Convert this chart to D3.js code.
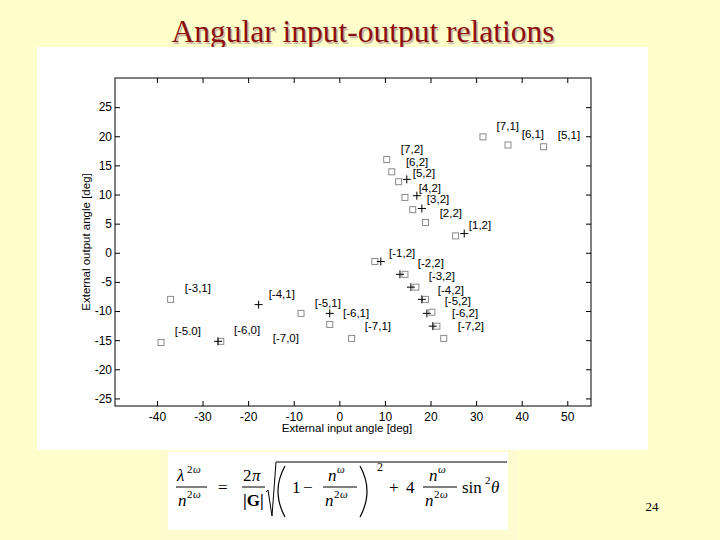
<!DOCTYPE html>
<html>
<head>
<meta charset="utf-8">
<script src="https://cdn.jsdelivr.net/npm/d3@7/dist/d3.min.js"></script>
<style>
  html, body { margin: 0; padding: 0; background: #ffffcc; }
  svg { display: block; }
</style>
</head>
<body>
<script>
// ---- data ----
const xTicks = [-40, -30, -20, -10, 0, 10, 20, 30, 40, 50];
const yTicks = [-25, -20, -15, -10, -5, 0, 5, 10, 15, 20, 25];

// calculated (theory) points: grey squares
const theoryX = [31.5, 37.0, 44.8, 10.4, 11.5, 13.0, 14.4, 16.1, 18.9, 25.5, 7.8, 14.4, 16.8, 18.9, 20.3, 21.4, 22.9, -37.0, -8.4, -2.1, 2.7, -39.1, -26.0];
const theoryY = [19.9, 18.5, 18.2, 16.0, 13.9, 12.2, 9.5, 7.4, 5.2, 2.9, -1.5, -3.7, -5.9, -8.0, -10.2, -12.6, -14.7, -8.0, -10.4, -12.3, -14.7, -15.4, -15.2];

// measured points: black plus markers
const measX = [14.8, 17.0, 18.1, 27.4, 9.1, 13.3, 15.7, 18.1, 19.2, 20.5, -17.7, -2.1, -26.6];
const measY = [12.6, 9.8, 7.6, 3.3, -1.5, -3.7, -5.9, -8.0, -10.4, -12.6, -8.9, -10.4, -15.2];

// order labels and their anchor (left edge, middle) in data units
const labelText = ["[7,1]", "[6,1]", "[5,1]", "[7,2]", "[6,2]", "[5,2]", "[4,2]", "[3,2]", "[2,2]", "[1,2]",
                   "[-1,2]", "[-2,2]", "[-3,2]", "[-4,2]", "[-5,2]", "[-6,2]", "[-7,2]",
                   "[-3,1]", "[-4,1]", "[-5,1]", "[-6,1]", "[-7,1]", "[-5.0]", "[-6,0]", "[-7,0]"];
const labelX = [34.5, 40.0, 47.9, 13.5, 14.6, 16.1, 17.4, 19.2, 22.0, 28.4,
                10.9, 17.2, 19.6, 21.6, 23.1, 24.7, 26.0,
                -33.9, -15.5, -5.4, 0.8, 5.6, -36.1, -23.1, -14.6];
const labelY = [21.8, 20.4, 20.3, 17.9, 15.6, 13.7, 11.2, 9.3, 6.9, 4.7,
                0.0, -1.8, -3.9, -6.3, -8.3, -10.4, -12.6,
                -6.1, -7.0, -8.7, -10.4, -12.6, -13.5, -13.3, -14.7];

const titleText = "Angular input-output relations";
const xLabel = "External input angle [deg]";
const yLabel = "External output angle [deg]";
const pageNumber = "24";

// ---- drawing ----
(function () {
const W = 720, H = 540;
const svg = d3.select("body").append("svg").attr("width", W).attr("height", H);

svg.append("rect").attr("width", W).attr("height", H).attr("fill", "#ffffcc");

// title with soft shadow
const title = svg.append("g");
title.append("text").attr("x", 364.5).attr("y", 43.5)
  .attr("text-anchor", "middle").attr("font-family", "'Liberation Serif','Times New Roman',serif")
  .attr("font-size", 31.5).attr("fill", "#c9b9a0").text(titleText);
title.append("text").attr("x", 363).attr("y", 42)
  .attr("text-anchor", "middle").attr("font-family", "'Liberation Serif','Times New Roman',serif")
  .attr("font-size", 31.5).attr("fill", "#8b0f0f").text(titleText);

// white figure panel
svg.append("rect").attr("x", 37).attr("y", 47).attr("width", 611).attr("height", 403).attr("fill", "#ffffff");

const pL = 115, pR = 591, pT = 78, pB = 406;
const x = d3.scaleLinear().domain([-49.2, 55.2]).range([pL, pR]);
const y = d3.scaleLinear().domain([-26.3, 30]).range([pB, pT]);

const font = "'Liberation Sans', Arial, Helvetica, sans-serif";
const fmt = d => String(d);

// axes
const axB = svg.append("g").attr("transform", `translate(0,${pB})`)
  .call(d3.axisBottom(x).tickValues(xTicks).tickSize(-5).tickPadding(6).tickFormat(fmt));
const axT = svg.append("g").attr("transform", `translate(0,${pT})`)
  .call(d3.axisTop(x).tickValues(xTicks).tickSize(-5).tickFormat(""));
const axL = svg.append("g").attr("transform", `translate(${pL},0)`)
  .call(d3.axisLeft(y).tickValues(yTicks).tickSize(-5).tickPadding(3).tickFormat(fmt));
const axR = svg.append("g").attr("transform", `translate(${pR},0)`)
  .call(d3.axisRight(y).tickValues(yTicks).tickSize(-5).tickFormat(""));
[axB, axT, axL, axR].forEach(g => {
  g.select(".domain").remove();
  g.selectAll(".tick line").attr("stroke", "#000").attr("stroke-width", 1);
  g.selectAll("text").attr("font-family", font).attr("font-size", 12).attr("fill", "#000");
});
svg.append("rect").attr("x", pL).attr("y", pT).attr("width", pR - pL).attr("height", pB - pT)
  .attr("fill", "none").attr("stroke", "#000").attr("stroke-width", 1);

// axis titles
svg.append("text").attr("x", (pL + pR) / 2 - 6).attr("y", 432)
  .attr("text-anchor", "middle").attr("font-family", font).attr("font-size", 11.5).text(xLabel);
svg.append("text").attr("transform", `translate(90,${(pT + pB) / 2})rotate(-90)`)
  .attr("text-anchor", "middle").attr("font-family", font).attr("font-size", 11.5).text(yLabel);

// theory squares
const theory = theoryX.map((v, i) => ({ x: v, y: theoryY[i] }));
svg.append("g").selectAll("rect").data(theory).join("rect")
  .attr("x", d => x(d.x) - 3).attr("y", d => y(d.y) - 3)
  .attr("width", 6).attr("height", 6)
  .attr("fill", "none").attr("stroke", "#8a8a8a").attr("stroke-width", 1);

// measured plus markers
const meas = measX.map((v, i) => ({ x: v, y: measY[i] }));
svg.append("g").selectAll("path").data(meas).join("path")
  .attr("d", d => { const cx = x(d.x), cy = y(d.y); return `M${cx - 4},${cy}H${cx + 4}M${cx},${cy - 4}V${cy + 4}`; })
  .attr("stroke", "#000").attr("stroke-width", 1).attr("fill", "none");

// order labels
const labels = labelText.map((t, i) => ({ t, x: labelX[i], y: labelY[i] }));
svg.append("g").selectAll("text").data(labels).join("text")
  .attr("x", d => x(d.x)).attr("y", d => y(d.y)).attr("dy", "0.35em")
  .attr("font-family", font).attr("font-size", 11.5).attr("fill", "#000")
  .text(d => d.t);

// formula box
svg.append("rect").attr("x", 160).attr("y", 450).attr("width", 358).attr("height", 90).attr("fill", "#fffbd0");
svg.append("rect").attr("x", 168).attr("y", 452).attr("width", 340).attr("height", 78).attr("fill", "#ffffff");

const serif = "'Liberation Serif','Times New Roman',serif";
const f = svg.append("g").attr("font-family", serif).attr("fill", "#000");
function t(xp, yp, s, size, italic) {
  f.append("text").attr("x", xp).attr("y", yp).attr("font-size", size)
    .attr("font-style", italic ? "italic" : "normal").text(s);
}
function line(x1, x2, yy) {
  f.append("line").attr("x1", x1).attr("x2", x2).attr("y1", yy).attr("y2", yy).attr("stroke", "#000").attr("stroke-width", 1);
}
// lambda^{2w} / n^{2w}
t(177, 481, "λ", 17, true); t(187, 473, "2", 11, false); t(193, 473, "ω", 11, true);
line(176, 207, 487);
t(178, 506, "n", 17, true); t(187, 498, "2", 11, false); t(193, 498, "ω", 11, true);
t(218, 493, "=", 17, false);
// 2pi/|G|
t(243, 481, "2", 17, false); t(252, 481, "π", 17, true);
line(242, 265, 487);
f.append("text").attr("x", 243).attr("y", 506).attr("font-size", 17).attr("font-weight", "bold").text("|G|");
// radical
f.append("path").attr("d", "M266,492 L268,490 L272,516 L276,462 L507,462")
  .attr("fill", "none").attr("stroke", "#000").attr("stroke-width", 1);
// parentheses
f.append("path").attr("d", "M285,466 Q271,491 285,517").attr("fill", "none").attr("stroke", "#000").attr("stroke-width", 1.2);
f.append("path").attr("d", "M360,466 Q374,491 360,517").attr("fill", "none").attr("stroke", "#000").attr("stroke-width", 1.2);
t(292, 493, "1", 17, false);
t(303, 493, "−", 17, false);
t(328, 481, "n", 17, true); t(337, 473, "ω", 11, true);
line(323, 357, 487);
t(325, 506, "n", 17, true); t(334, 498, "2", 11, false); t(340, 498, "ω", 11, true);
t(377, 471, "2", 12, false);
t(389, 493, "+", 17, false);
t(406, 493, "4", 17, false);
t(429, 481, "n", 17, true); t(438, 473, "ω", 11, true);
line(423, 457, 487);
t(425, 506, "n", 17, true); t(434, 498, "2", 11, false); t(440, 498, "ω", 11, true);
t(462, 493, "sin", 17, false); t(485, 484, "2", 11, false); t(491, 493, "θ", 17, true);

// page number
svg.append("text").attr("x", 652).attr("y", 511).attr("text-anchor", "middle")
  .attr("font-family", serif).attr("font-size", 13).attr("fill", "#000").text(pageNumber);
})();
</script>
</body>
</html>
